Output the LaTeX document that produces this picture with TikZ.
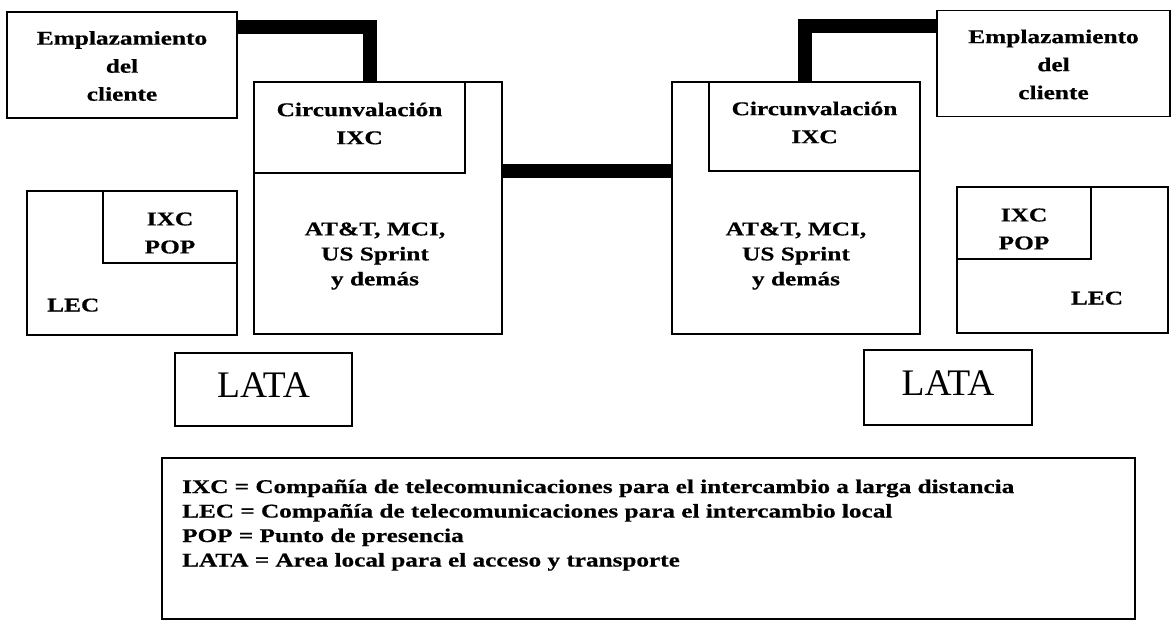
\documentclass[tikz,border=0pt]{standalone}
\usepackage{fontspec}
\setmainfont{Liberation Serif}
\newfontfamily\wideserif[FakeStretch=1.3,FakeBold=0.6]{Liberation Serif}
\usetikzlibrary{calc}
\begin{document}
\begin{tikzpicture}[x=1pt,y=-1pt,
  box/.style={draw, line width=1.2pt, inner sep=0pt, outer sep=0pt, anchor=north west},
  lbl/.style={inner sep=0pt, align=center, font=\wideserif\bfseries\fontsize{19.5}{28}\selectfont},
  legendtext/.style={inner sep=0pt, align=left, anchor=base west, font=\wideserif\bfseries\fontsize{19.4}{24.5}\selectfont},
  latatext/.style={inner sep=0pt, anchor=base, font=\fontsize{37.5}{40}\selectfont},
  wire/.style={line width=14pt, line join=miter, line cap=butt}]
\useasboundingbox (0,0) rectangle (1172,622);

% ---------- left side ----------
\node[box, minimum width=230pt, minimum height=106pt] (lcl) at (7,12) {};
\node[lbl] (lcltxt) at ($(lcl.center)+(0,1)$) {Emplazamiento\\del\\cliente};

\node[box, minimum width=248pt, minimum height=252pt] (lbig) at (254,82) {};
\node[box, minimum width=211pt, minimum height=91pt] (lcirc) at (254,82) {};
\node[lbl] (lcirctxt) at ($(lcirc.center)+(0,-4)$) {Circunvalación\\IXC};
\node[lbl, font=\wideserif\bfseries\fontsize{19.5}{25}\selectfont] (lcar) at (375,256) {AT\&T, MCI,\\US Sprint\\y demás};

\node[box, minimum width=210pt, minimum height=144pt] (llec) at (27,191) {};
\node[box, minimum width=134pt, minimum height=72pt] (lpop) at (103,191) {};
\node[lbl] (lpoptxt) at ($(lpop.center)+(0,6)$) {IXC\\POP};
\node[lbl, anchor=base west] (llectxt) at (47,311.5) {LEC};

\node[box, minimum width=177pt, minimum height=73pt] (llata) at (175,353) {};
\node[latatext] (llatatxt) at ($(llata.center)+(0,8)$) {LATA};

% ---------- right side ----------
\node[box, minimum width=233pt, minimum height=106pt] (rcl) at (937,10.5) {};
\node[lbl] (rcltxt) at ($(rcl.center)+(0,1)$) {Emplazamiento\\del\\cliente};

\node[box, minimum width=248pt, minimum height=252pt] (rbig) at (672,82) {};
\node[box, minimum width=211pt, minimum height=89pt] (rcirc) at (709,82) {};
\node[lbl] (rcirctxt) at ($(rcirc.center)+(0,-4)$) {Circunvalación\\IXC};
\node[lbl, font=\wideserif\bfseries\fontsize{19.5}{25}\selectfont] (rcar) at (796,256) {AT\&T, MCI,\\US Sprint\\y demás};

\node[box, minimum width=211pt, minimum height=146pt] (rlec) at (957,187) {};
\node[box, minimum width=134pt, minimum height=72pt] (rpop) at (957,187) {};
\node[lbl] (rpoptxt) at ($(rpop.center)+(0,6)$) {IXC\\POP};
\node[lbl, anchor=base] (rlectxt) at (1097,304.5) {LEC};

\node[box, minimum width=168pt, minimum height=75pt] (rlata) at (864,350) {};
\node[latatext] (rlatatxt) at ($(rlata.center)+(0,8)$) {LATA};

% ---------- thick connections ----------
\coordinate (lA) at ($(lcl.north east)+(0,14.5)$);
\coordinate (lB) at ($(lbig.north west)+(115.5,0)$);
\draw[wire] (lA) -| (lB);

\coordinate (mA) at ($(lbig.north east)+(0,88.5)$);
\coordinate (mB) at ($(rbig.north west)+(0,88.5)$);
\draw[wire] (mA) -- (mB);

\coordinate (rA) at ($(rcl.north west)+(0,15)$);
\coordinate (rB) at ($(rbig.north west)+(133,0)$);
\draw[wire] (rA) -| (rB);

% ---------- legend ----------
\node[box, minimum width=973pt, minimum height=161pt] (leg) at (162,458) {};
\node[legendtext] (legtxt) at (182,566.5) {IXC = Compañía de telecomunicaciones para el intercambio a larga distancia\\
LEC = Compañía de telecomunicaciones para el intercambio local\\
POP = Punto de presencia\\
LATA = Area local para el acceso y transporte};
\end{tikzpicture}
\end{document}
